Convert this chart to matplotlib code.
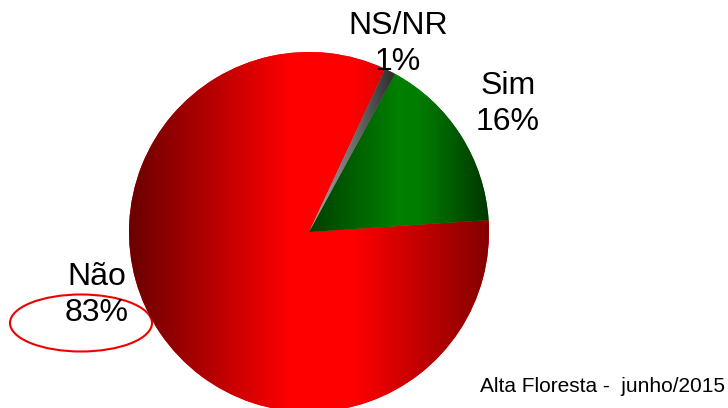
import matplotlib.pyplot as plt
import numpy as np
from matplotlib.colors import LinearSegmentedColormap
from matplotlib.patches import Ellipse

plt.rcParams['font.family'] = ['Liberation Sans', 'DejaVu Sans']

categories = ["Não", "Sim", "NS/NR"]
values = [83, 16, 1]
footer = "Alta Floresta -  junho/2015"

# horizontal shading per slice: (position, colour) stops across the slice's own width
shades = [
    [(0, "#6a0000"), (0.45, "#ff0000"), (0.62, "#ff0000"), (1, "#840000")],
    [(0, "#003f00"), (0.5, "#008000"), (0.62, "#007c00"), (1, "#003600")],
    [(0, "#a8a8a8"), (0.5, "#707070"), (1, "#2a2a2a")],
]
label_pos = [(97, 113), (508, 304), (398, 364)]

fig = plt.figure(figsize=(7.28, 4.08), dpi=100)
ax = fig.add_axes([0, 0, 1, 1])
W, H = 728, 408
cx, cy, r = 309, H - 232, 180

wedges, _ = ax.pie(values, center=(cx, cy), radius=r, startangle=65, counterclock=True,
                   colors=[s[1][1] for s in shades], wedgeprops=dict(linewidth=0), frame=True)

for w, stops in zip(wedges, shades):
    ext = w.get_path().get_extents()
    cmap = LinearSegmentedColormap.from_list("", stops)
    im = ax.imshow(np.linspace(0, 1, 256)[None, :], cmap=cmap, aspect="auto",
                   extent=[ext.x0, ext.x1, ext.y0, ext.y1], zorder=w.get_zorder() + 0.1,
                   interpolation="bilinear")
    im.set_clip_path(w)

for cat, v, (x, y) in zip(categories, values, label_pos):
    ax.text(x, y, f"{cat}\n{v}%", ha="center", va="center", fontsize=23, linespacing=1.25)

ax.add_patch(Ellipse((81, H - 323), 142, 57, fill=False, ec="#ee0000", lw=1.5))
ax.text(725, H - 392, footer, ha="right", va="baseline", fontsize=15)

ax.set_xlim(0, W); ax.set_ylim(0, H); ax.set_aspect("auto"); ax.axis("off")
fig.savefig("out.png", dpi=100)
